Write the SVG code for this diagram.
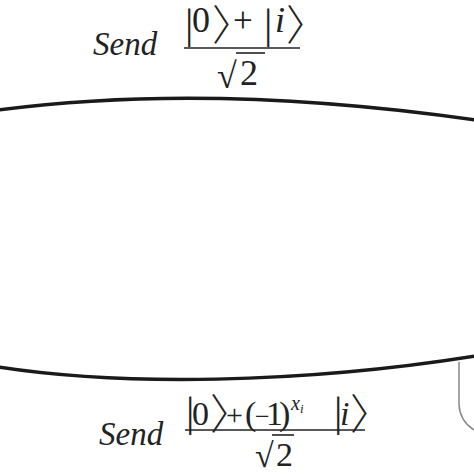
<svg xmlns="http://www.w3.org/2000/svg" width="474" height="474" viewBox="0 0 474 474">
<style>
.t{font-family:"Liberation Serif","Times New Roman",serif;fill:#222}
.it{font-style:italic}
.br{font-family:"Noto Sans CJK JP",sans-serif;font-style:normal;font-weight:300}
.bar{stroke:#222;stroke-width:1.6}
.ln{fill:none;stroke:#1a1a1a;stroke-width:3.5}
</style>
<rect width="474" height="474" fill="#fff"/>
<g id="connectors">
<path class="ln" d="M-2,110 C120,94 280,92 476,120"/>
<path class="ln" d="M-2,367 C120,386 300,384 476,356"/>
<path d="M459,362 L459,405 Q460,421 474,430" fill="none" stroke="#888" stroke-width="1.5"/>
</g>
<g id="label-top">
<text class="t it" x="93" y="55" font-size="33">Send</text>
<text class="t" font-size="36"><tspan x="185" y="38" font-size="42">|</tspan><tspan x="192" y="32">0</tspan><tspan class="br" x="212" y="40" font-size="42">〉</tspan><tspan x="233" y="32" font-size="35">+</tspan><tspan x="264" y="38" font-size="42">|</tspan><tspan class="it" x="275" y="32">i</tspan><tspan class="br" x="286" y="40" font-size="42">〉</tspan></text>
<line class="bar" x1="184" y1="48" x2="300" y2="48"/>
<text class="t" font-size="36"><tspan x="217" y="88">√</tspan><tspan x="240" y="85">2</tspan></text>
<line class="bar" x1="236" y1="53" x2="265" y2="53"/>
</g>
<g id="label-bottom">
<text class="t it" x="99" y="445" font-size="33">Send</text>
<text class="t" font-size="34"><tspan x="186" y="426" font-size="42">|</tspan><tspan x="192" y="425">0</tspan><tspan class="br" x="210" y="429" font-size="42">〉</tspan><tspan x="226" y="425" font-size="30">+</tspan><tspan x="245">(</tspan><tspan x="255" font-size="26">−</tspan><tspan x="266">1</tspan><tspan x="279">)</tspan><tspan class="it" x="291" y="410" font-size="20">x</tspan><tspan class="it" x="300" y="413" font-size="13">i</tspan><tspan x="334" y="426" font-size="42">|</tspan><tspan class="it" x="340" y="425">i</tspan><tspan class="br" x="350" y="429" font-size="42">〉</tspan></text>
<line class="bar" x1="185" y1="430" x2="365" y2="430"/>
<text class="t" font-size="34"><tspan x="255" y="467">√</tspan><tspan x="276" y="466">2</tspan></text>
<line class="bar" x1="272" y1="435" x2="294" y2="435"/>
</g>
</svg>
